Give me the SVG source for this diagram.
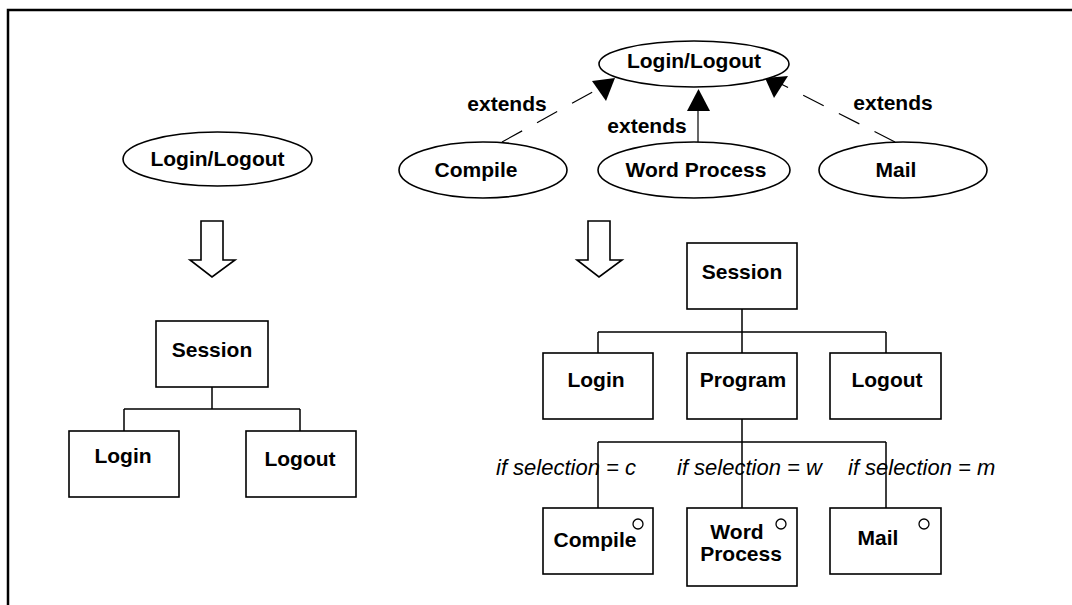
<svg xmlns="http://www.w3.org/2000/svg" width="1072" height="605" viewBox="0 0 1072 605">
<style>
.b{fill:#fff;stroke:#000;stroke-width:1.6}
.t{font-family:"Liberation Sans",Arial,sans-serif;font-weight:bold;font-size:21px;fill:#000;text-anchor:middle}
.i{font-family:"Liberation Sans",Arial,sans-serif;font-style:italic;font-size:22px;fill:#000}
.c{fill:none;stroke:#000;stroke-width:1.5}
.d{fill:none;stroke:#000;stroke-width:1.2;stroke-dasharray:23 17}
.h{fill:#fff;stroke:#000;stroke-width:1.6}
.s{fill:#fff;stroke:#000;stroke-width:1.3}
</style>
<rect width="1072" height="605" fill="#fff"/>
<path d="M8,605 V10 H1072" fill="none" stroke="#000" stroke-width="2.5"/>
<g id="connectors">
<path class="c" d="M212,387 V409 M124,409 H300 M124,409 V431 M300,409 V431"/>
<path class="c" d="M742,309 V353 M598,332 H886 M598,332 V353 M886,332 V353"/>
<path class="c" d="M742,419 V508 M598,442 H886 M598,442 V508 M886,442 V508"/>
<path class="d" d="M502,142 L598,89"/>
<path class="d" d="M895,142 L781,84"/>
<path class="c" d="M698,142 V111" style="stroke-width:1.2"/>
<polygon points="592,81 615,78 606,101" fill="#000"/>
<polygon points="687,111 710,111 698.5,89" fill="#000"/>
<polygon points="765,78 788,76 774,98" fill="#000"/>
<text class="t" x="507" y="111">extends</text>
<text class="t" x="647" y="133">extends</text>
<text class="t" x="893" y="110">extends</text>
<path class="h" d="M201,221 H223 V260 H235 L212,277 L190,260 H201 Z"/>
<path class="h" d="M588,221 H610 V260 H622 L599,277 L577,260 H588 Z"/>
<text class="i" x="496" y="475">if selection = c</text>
<text class="i" x="677" y="475">if selection = w</text>
<text class="i" x="848" y="475">if selection = m</text>
</g>
<g id="left-loginlogout"><ellipse class="b" cx="217.5" cy="159" rx="94.5" ry="27"/><text class="t" x="217.5" y="166">Login/Logout</text></g>
<g id="left-session"><rect class="b" x="156" y="321" width="112" height="66"/><text class="t" x="212" y="357">Session</text></g>
<g id="left-login"><rect class="b" x="69" y="431" width="110" height="66"/><text class="t" x="123" y="463">Login</text></g>
<g id="left-logout"><rect class="b" x="246" y="431" width="110" height="66"/><text class="t" x="300" y="466">Logout</text></g>
<g id="top-loginlogout"><ellipse class="b" cx="694" cy="64" rx="95" ry="23"/><text class="t" x="694" y="68">Login/Logout</text></g>
<g id="uc-compile"><ellipse class="b" cx="483" cy="170" rx="84" ry="28"/><text class="t" x="476" y="177">Compile</text></g>
<g id="uc-word"><ellipse class="b" cx="694" cy="170" rx="96" ry="28"/><text class="t" x="696" y="177">Word Process</text></g>
<g id="uc-mail"><ellipse class="b" cx="903" cy="170" rx="84" ry="28"/><text class="t" x="896" y="177">Mail</text></g>
<g id="session"><rect class="b" x="687" y="243" width="110" height="66"/><text class="t" x="742" y="279">Session</text></g>
<g id="login"><rect class="b" x="543" y="353" width="110" height="66"/><text class="t" x="596" y="387">Login</text></g>
<g id="program"><rect class="b" x="687" y="353" width="110" height="66"/><text class="t" x="743" y="387">Program</text></g>
<g id="logout"><rect class="b" x="830" y="353" width="111" height="66"/><text class="t" x="887" y="387">Logout</text></g>
<g id="compile"><rect class="b" x="543" y="508" width="110" height="66"/><circle class="s" cx="638" cy="524" r="5"/><text class="t" x="595" y="547">Compile</text></g>
<g id="wordprocess"><rect class="b" x="687" y="508" width="110" height="78"/><circle class="s" cx="781" cy="524" r="5"/><text class="t" x="737" y="539">Word</text><text class="t" x="741" y="561">Process</text></g>
<g id="mail"><rect class="b" x="830" y="508" width="111" height="66"/><circle class="s" cx="924" cy="524" r="5"/><text class="t" x="878" y="545">Mail</text></g>
</svg>
